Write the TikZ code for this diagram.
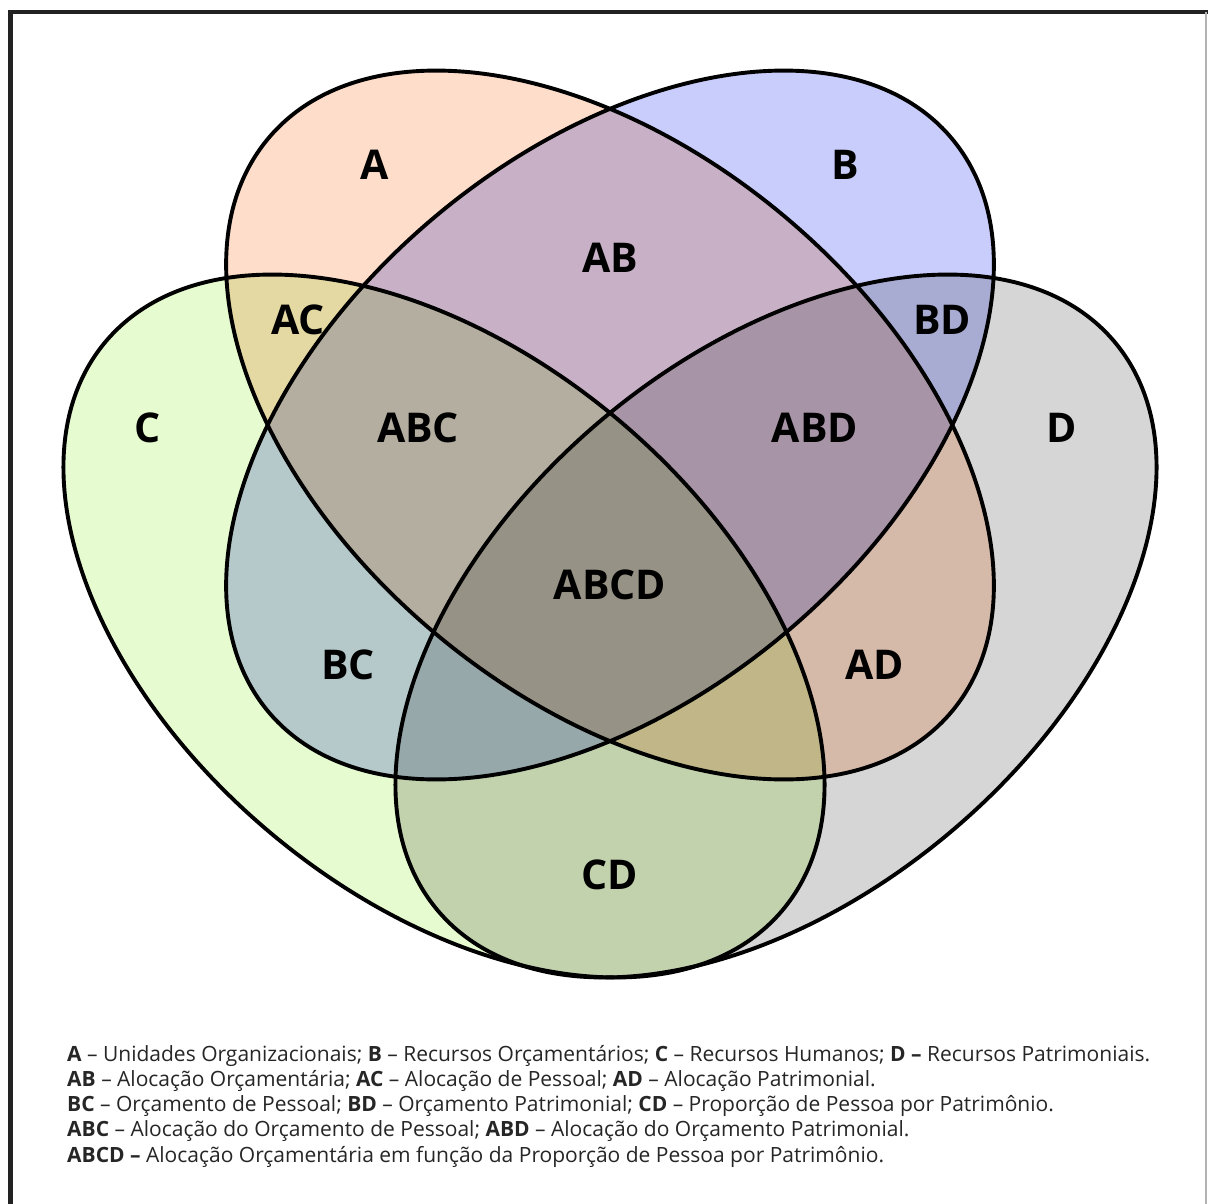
\documentclass[tikz,border=0pt]{standalone}
\usepackage{fontspec}
\setmainfont{Open Sans}
\usetikzlibrary{calc}
\definecolor{cA}{RGB}{254,221,202}
\definecolor{cB}{RGB}{201,205,251}
\definecolor{cC}{RGB}{230,251,207}
\definecolor{cD}{RGB}{214,214,214}
\definecolor{frame}{RGB}{34,34,34}
\begin{document}
\begin{tikzpicture}[x=1pt,y=-1pt,
  setA/.style={shift={(610,425)},rotate=-40},
  setB/.style={shift={(610,425)},rotate=40},
  setC/.style={shift={(444,626)},rotate=-40},
  setD/.style={shift={(776,626)},rotate=40},
  outline/.style={draw=black,line width=3.9pt},
  lbl/.style={font=\fontsize{41}{44}\selectfont\bfseries,inner sep=0pt},
  legend/.style={font=\fontsize{21}{23}\selectfont,anchor=base west,inner sep=0pt,text=black!85}]
\useasboundingbox (0,0) rectangle (1208,1203);
\fill[white] (0,0) rectangle (1208,1203);
% frame
\draw[frame,line width=4.5pt] (10.5,1210) -- (10.5,12) -- (1210,12);
\draw[black!30,line width=1.2pt] (1206,12) -- (1206,1210);
% fills
\begin{scope}[blend group=multiply]
  \fill[cA,setA] (0,0) ellipse (446 and 272);
  \fill[cB,setB] (0,0) ellipse (446 and 272);
  \fill[cC,setC] (0,0) ellipse (442 and 270);
  \fill[cD,setD] (0,0) ellipse (442 and 270);
\end{scope}
% outlines
\path[outline,setA] (0,0) ellipse (446 and 272);
\path[outline,setB] (0,0) ellipse (446 and 272);
\path[outline,setC] (0,0) ellipse (442 and 270);
\path[outline,setD] (0,0) ellipse (442 and 270);
% labels
\node[lbl] (nA) at (375,165) {A};
\node[lbl] (nB) at (845,165) {B};
\node[lbl] (nAB) at (610,258) {AB};
\node[lbl] (nAC) at (298,320) {AC};
\node[lbl] (nBD) at (942,320) {BD};
\node[lbl] (nC) at (148,428) {C};
\node[lbl] (nABC) at (418,428) {ABC};
\node[lbl] (nABD) at (815,428) {ABD};
\node[lbl] (nD) at (1062,428) {D};
\node[lbl] (nABCD) at (610,585) {ABCD};
\node[lbl] (nBC) at (348,665) {BC};
\node[lbl] (nAD) at (875,665) {AD};
\node[lbl] (nCD) at (610,875) {CD};
% legend
\node[legend] (l1) at (67,1061) {\textbf{A} – Unidades Organizacionais; \textbf{B} – Recursos Orçamentários; \textbf{C} – Recursos Humanos; \textbf{D –} Recursos Patrimoniais.};
\node[legend] (l2) at (67,1086) {\textbf{AB} – Alocação Orçamentária; \textbf{AC} – Alocação de Pessoal; \textbf{AD} – Alocação Patrimonial.};
\node[legend] (l3) at (67,1111.5) {\textbf{BC} – Orçamento de Pessoal; \textbf{BD} – Orçamento Patrimonial; \textbf{CD} – Proporção de Pessoa por Patrimônio.};
\node[legend] (l4) at (67,1136.5) {\textbf{ABC} – Alocação do Orçamento de Pessoal; \textbf{ABD} – Alocação do Orçamento Patrimonial.};
\node[legend] (l5) at (67,1162) {\textbf{ABCD –} Alocação Orçamentária em função da Proporção de Pessoa por Patrimônio.};
\end{tikzpicture}
\end{document}
